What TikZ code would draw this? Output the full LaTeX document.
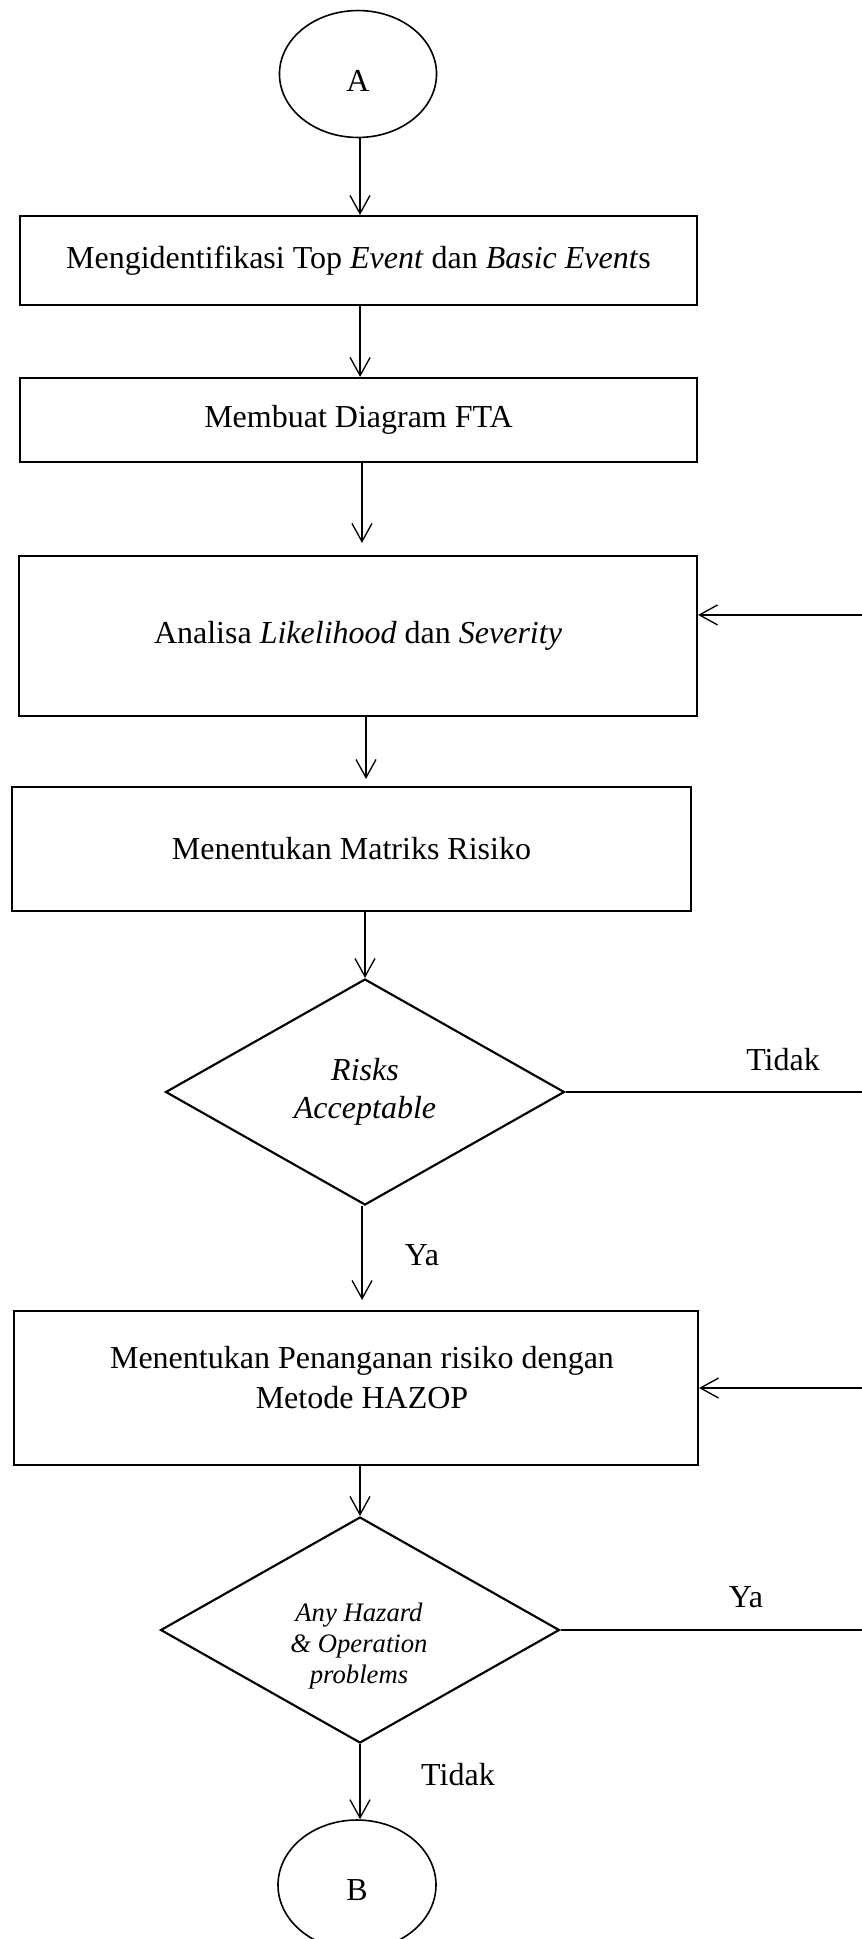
\documentclass[tikz,border=0pt]{standalone}
\usepackage{fontspec}
\setmainfont{Liberation Serif}
\usetikzlibrary{shapes.geometric,arrows.meta,calc}

\begin{document}
\begin{tikzpicture}[x=0.375pt,y=-0.375pt,
  txt/.style={font=\fontsize{12}{15}\selectfont},
  stepbox/.style={draw, rectangle, line width=0.8pt, inner sep=0pt, align=center, txt},
  decision/.style={draw, diamond, line width=0.8pt, inner sep=0pt, aspect=1.77,
    minimum width=149.6pt, minimum height=84.75pt, align=center},
  terminal/.style={draw, ellipse, line width=0.6pt, inner sep=0pt, txt},
  flow/.style={line width=0.5pt},
  arr/.style={flow, -{Straight Barb[length=6.8pt,width=7.5pt]}},
  lbl/.style={txt, inner sep=0pt}]

\useasboundingbox (0,0) rectangle (862,1939);
\clip (0,0) rectangle (862,1939);

% terminals and process steps
\node[terminal, minimum width=58.9pt, minimum height=47.6pt, text height=13pt] (A) at (358,74) {A};
\node[stepbox, minimum width=253.9pt, minimum height=33.4pt] (s1) at (358.5,260.5)
  {Mengidentifikasi Top \textit{Event} dan \textit{Basic Event}s};
\node[stepbox, minimum width=253.9pt, minimum height=31.5pt] (s2) at (358.5,420)
  {Membuat Diagram FTA};
\node[stepbox, minimum width=254.25pt, minimum height=60pt] (s3) at (358,636)
  {Analisa \textit{Likelihood} dan \textit{Severity}};
\node[stepbox, minimum width=254.6pt, minimum height=46.5pt] (s4) at (351.5,849)
  {Menentukan Matriks Risiko};
\node[decision, font=\fontsize{12}{14.25}\selectfont\itshape] (d1) at (365,1092)
  {Risks\\Acceptable};
\node[stepbox, minimum width=256.5pt, minimum height=57.75pt] (s5) at (356,1388) {};
\node[txt, align=center, inner sep=0pt] (s5t) at (362,1378)
  {Menentukan Penanganan risiko dengan\\Metode HAZOP};
\node[decision] (d2) at (360,1630) {};
\node[font=\fontsize{10}{11.6}\selectfont\itshape, align=center, inner sep=0pt] (d2t) at (359,1646)
  {Any Hazard\\\& Operation\\problems};
\node[terminal, minimum width=59.25pt, minimum height=48.75pt, text height=11.7pt] (B) at (357,1885) {B};

% main flow
\draw[arr] ([xshift=0.75pt]A.south) -- ([xshift=0.75pt]A.south |- s1.north);
\draw[arr] ([xshift=0.6pt]s1.south) -- ([xshift=0.6pt]s1.south |- s2.north);
\draw[arr, shorten >=4.5pt] ([xshift=1.3pt]s2.south) -- ([xshift=1.3pt]s2.south |- s3.north);
\draw[arr, shorten >=2.6pt] ([xshift=3pt]s3.south) -- ([xshift=3pt]s3.south |- s4.north);
\draw[arr] (d1.north |- s4.south) -- (d1.north);
\draw[arr, shorten >=3.75pt] ([xshift=-1.1pt]d1.south) -- ([xshift=-1.1pt]d1.south |- s5.north);
\draw[arr] (d2.north |- s5.south) -- (d2.north);
\draw[arr] (d2.south) -- (d2.south |- B.north);

% return loops, running out past the right edge
\coordinate (back) at (900,0);
\draw[arr] (d1.east) -- (d1.east -| back) |- ([yshift=7.9pt]s3.east);
\draw[arr] (d2.east) -- (d2.east -| back) |- (s5.east);

% branch labels
\node[lbl] (t1) at (783,1060) {Tidak};
\node[lbl] (y1) at (422,1255) {Ya};
\node[lbl] (y2) at (746,1597) {Ya};
\node[lbl] (t2) at (458,1775) {Tidak};
\end{tikzpicture}
\end{document}
